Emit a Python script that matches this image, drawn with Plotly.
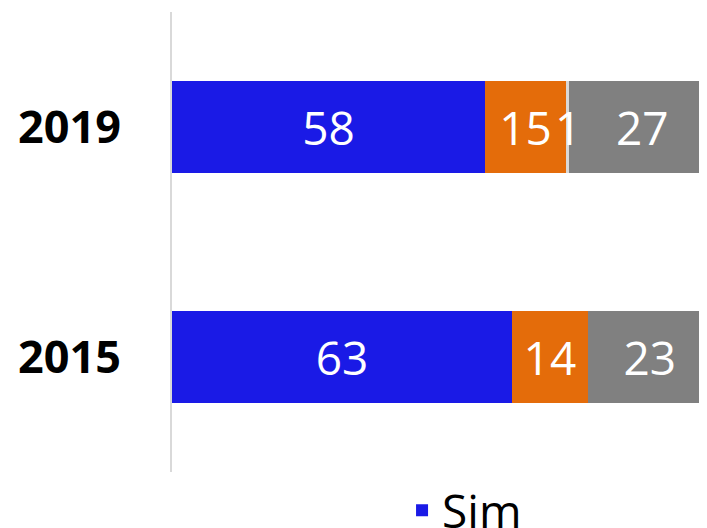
import plotly.graph_objects as go

years = ["2015", "2019"]
series_names = ["Sim", "Não", "Talvez", "NS/NR"]
sim = [63, 58]
nao = [14, 15]
talvez = [0, 0.6]
nsnr = [23, 27]
colors = ["#1a1ae6", "#e46c0a", "#d9d9d9", "#808080"]

font_family = "Open Sans"
label_size = 46

fig = go.Figure()
values = [sim, nao, talvez, nsnr]
for i, (name, vals) in enumerate(zip(series_names, values)):
    fig.add_trace(go.Bar(
        y=years, x=vals, name=name, orientation="h",
        marker=dict(color=colors[i], line=dict(width=0)),
        text=[str(round(v + 0.001)) if v else "" for v in vals],
        textposition="none" if name == "Talvez" else "inside",
        insidetextanchor="middle", textangle=0,
        insidetextfont=dict(color="white", size=label_size, family=font_family),
        showlegend=(i == 0),
    ))

# label for the thin segment, drawn over its centre
for idx, (s, n, t) in enumerate(zip(sim, nao, talvez)):
    if t:
        fig.add_annotation(x=s + n + t / 2, y=idx, xref="x", yref="y",
                           text=str(round(t + 0.001)), showarrow=False,
                           font=dict(color="white", size=label_size, family=font_family))

fig.update_layout(
    barmode="stack", bargap=0.6,
    width=707, height=528,
    margin=dict(l=164, r=8, t=4, b=64, autoexpand=False),
    plot_bgcolor="white", paper_bgcolor="white",
    xaxis=dict(range=[0, 99.1], showgrid=False, showticklabels=False, zeroline=False,
               showline=False, automargin=False),
    yaxis=dict(type="category", categoryorder="array", categoryarray=years,
               range=[-0.5, 1.5],
               showgrid=False, showline=True, linecolor="#d9d9d9", linewidth=2,
               ticks="", automargin=False,
               tickfont=dict(size=45, family=font_family, color="black", weight="bold"),
               ticklabelstandoff=40),
    legend=dict(orientation="h", x=0.43, xanchor="left", y=-0.004, yanchor="top",
                font=dict(size=46, family=font_family, color="black"),
                bgcolor="rgba(0,0,0,0)"),
    showlegend=True,
)

fig.write_html("out.html")
